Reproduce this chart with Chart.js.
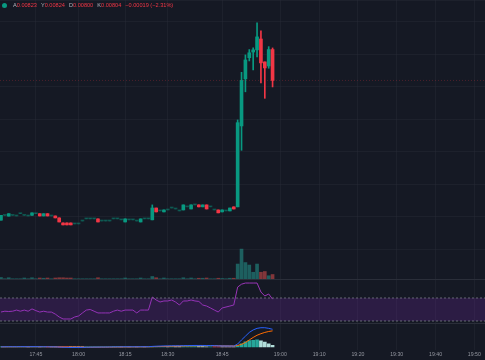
<!DOCTYPE html>
<html>
<head>
<meta charset="utf-8">
<script src="https://cdn.jsdelivr.net/npm/chart.js@4.4.1/dist/chart.umd.min.js"></script>
<style>
    body {
        margin: 0;
        padding: 0;
        background: #151924;
        width: 485px;
        height: 360px;
        overflow: hidden;
        position: relative;
        font-family: "Liberation Sans", Arial, sans-serif;
    }
    .pane { position: absolute; left: 0; width: 485px; }
    #pricePane { top: 0; height: 279px; }
    #rsiPane { top: 280px; height: 43px; }
    #macdPane { top: 324px; height: 36px; }
    .sep { position: absolute; left: 0; width: 485px; height: 1px; background: #2a2e39; }
    #legend {
        position: absolute;
        left: 2px;
        top: 2px;
        font-size: 5.6px;
        line-height: 7px;
        color: #f23645;
        white-space: nowrap;
        z-index: 5;
    }
    #legend .dot {
        display: inline-block;
        width: 5px; height: 5px;
        border-radius: 50%;
        background: #089981;
        vertical-align: -1px;
        margin-right: 6px;
    }
    #legend .k { color: #b2b5be; }
    #legend .g { margin-right: 2.5px; }
</style>
</head>
<body>
<div id="legend">
    <span class="dot"></span><span class="g"><span class="k">A</span>0.00823</span>
    <span class="g"><span class="k">Y</span>0.00824</span>
    <span class="g"><span class="k">D</span>0.00800</span>
    <span class="g"><span class="k">K</span>0.00804</span>
    <span class="g">−0.00019 (−2.31%)</span>
</div>
<div class="pane" id="pricePane"><canvas id="priceChart"></canvas></div>
<div class="sep" style="top:279px"></div>
<div class="pane" id="rsiPane"><canvas id="rsiChart"></canvas></div>
<div class="sep" style="top:323px"></div>
<div class="pane" id="macdPane"><canvas id="macdChart"></canvas></div>

<script>
// 1 minute candles, index = bar number
const open = [0.00718, 0.00721, 0.007205, 0.00721, 0.007206, 0.00722, 0.00721, 0.007206, 0.00721, 0.00722,
    0.00722, 0.007206, 0.00722, 0.007206, 0.007206, 0.007194, 0.007163, 0.007163, 0.007163, 0.007157,
    0.007157, 0.007175, 0.007188, 0.007188, 0.007188, 0.007188, 0.007175, 0.007175, 0.007175, 0.007188,
    0.007188, 0.007182, 0.007169, 0.007182, 0.007182, 0.007175, 0.007169, 0.007188, 0.007188, 0.007182,
    0.007255, 0.007237, 0.007231, 0.007243, 0.007255, 0.007249, 0.007237, 0.007243, 0.007262, 0.007249,
    0.007274, 0.007274, 0.007262, 0.007274, 0.007262, 0.007243, 0.007243, 0.007231, 0.007237, 0.007237,
    0.007262, 0.007262, 0.00776, 0.00805, 0.00818, 0.008215, 0.008228, 0.008295, 0.008154, 0.008129,
    0.00823];
const high = [0.00721, 0.00721, 0.00722, 0.00721, 0.007206, 0.00722, 0.00721, 0.007206, 0.007225, 0.00722,
    0.00722, 0.00722, 0.00722, 0.007206, 0.007206, 0.007194, 0.007163, 0.007163, 0.007163, 0.007157,
    0.007157, 0.007175, 0.007188, 0.007188, 0.007188, 0.007188, 0.007175, 0.007175, 0.007175, 0.007188,
    0.007188, 0.007182, 0.007188, 0.007182, 0.007182, 0.007175, 0.007188, 0.007188, 0.007188, 0.007274,
    0.007255, 0.007237, 0.007243, 0.007243, 0.007255, 0.007249, 0.007237, 0.007274, 0.007262, 0.007274,
    0.007274, 0.007274, 0.007274, 0.007274, 0.007262, 0.007243, 0.007243, 0.007243, 0.007237, 0.007255,
    0.007262, 0.007797, 0.00809, 0.008197, 0.00823, 0.00824, 0.008394, 0.008345, 0.008154, 0.008248,
    0.00824];
const low = [0.00718, 0.00721, 0.007205, 0.00721, 0.007206, 0.00722, 0.00721, 0.007206, 0.00721, 0.00722,
    0.007206, 0.007206, 0.007206, 0.007206, 0.007194, 0.007169, 0.007151, 0.007151, 0.007151, 0.007157,
    0.007157, 0.007175, 0.007188, 0.007188, 0.007188, 0.007169, 0.007175, 0.007175, 0.007175, 0.007188,
    0.007188, 0.007182, 0.007169, 0.007182, 0.007182, 0.007175, 0.007169, 0.007188, 0.007188, 0.007182,
    0.007231, 0.007237, 0.007231, 0.007243, 0.007255, 0.007249, 0.007237, 0.007243, 0.007262, 0.007249,
    0.007274, 0.007262, 0.007262, 0.007249, 0.007262, 0.007243, 0.007225, 0.007231, 0.007237, 0.007237,
    0.007249, 0.007262, 0.00761, 0.00797, 0.00816, 0.008105, 0.008185, 0.008025, 0.00793, 0.008115,
    0.008];
const close = [0.00721, 0.00721, 0.00722, 0.00721, 0.007206, 0.00722, 0.00721, 0.007206, 0.007225, 0.00722,
    0.007206, 0.00722, 0.007206, 0.007206, 0.007194, 0.007169, 0.007151, 0.007151, 0.007151, 0.007157,
    0.007157, 0.007175, 0.007188, 0.007188, 0.007188, 0.007169, 0.007175, 0.007175, 0.007175, 0.007188,
    0.007188, 0.007182, 0.007188, 0.007182, 0.007182, 0.007175, 0.007188, 0.007188, 0.007188, 0.007255,
    0.007231, 0.007237, 0.007243, 0.007243, 0.007255, 0.007249, 0.007237, 0.007274, 0.007262, 0.007274,
    0.007274, 0.007262, 0.007274, 0.007249, 0.007262, 0.007243, 0.007225, 0.007243, 0.007237, 0.007255,
    0.007249, 0.00778, 0.00804, 0.008166, 0.00821, 0.008228, 0.008308, 0.008148, 0.008117, 0.00823,
    0.00804];
// volume in thousands
const volume = [30, 5, 25, 5, 5, 5, 20, 5, 25, 5,
    20, 15, 20, 5, 20, 25, 25, 20, 20, 5,
    5, 5, 5, 5, 5, 25, 5, 5, 5, 5,
    5, 5, 20, 5, 5, 5, 20, 5, 5, 50,
    25, 5, 20, 5, 5, 5, 5, 25, 5, 20,
    5, 15, 15, 20, 5, 5, 15, 10, 5, 15,
    15, 300, 600, 330, 280, 135, 300, 135, 150, 65,
    90];
const rsi = [45.6, 47, 46.5, 47, 49, 47, 49, 47, 51, 48,
    45.5, 47, 45.5, 45.5, 42, 37, 33.5, 33.5, 33.5, 37,
    38.7, 44, 49, 50, 47, 44, 44, 44, 44, 47,
    49, 47, 49, 49, 49, 44, 49, 49, 49, 71.7,
    66.5, 63, 64.8, 64.8, 66.5, 63, 57.8, 64.8, 64.8, 66.5,
    64.8, 64, 57.8, 56, 52.6, 49, 45.6, 52.6, 54.3, 56,
    57.8, 89, 94, 96, 96, 96, 96, 80.4, 73.5, 77,
    68];
const macdLine = [0, 0.000001, 0.000002, 0.000002, 0.000002, 0.000003, 0.000003, 0.000002, 0.000003, 0.000003,
    0.000002, 0.000002, 0.000001, 0.000001, 0, -0.000003, -0.000006, -0.000008, -0.00001, -0.00001,
    -0.00001, -0.000009, -0.000007, -0.000005, -0.000004, -0.000004, -0.000003, -0.000003, -0.000002, -0.000001,
    0, 0, 0.000001, 0.000001, 0.000001, 0.000001, 0.000002, 0.000002, 0.000002, 0.000007,
    0.00001, 0.000012, 0.000014, 0.000015, 0.000017, 0.000017, 0.000017, 0.000019, 0.00002, 0.000021,
    0.000022, 0.000022, 0.000022, 0.000021, 0.000021, 0.000019, 0.000016, 0.000015, 0.000014, 0.000014,
    0.000013, 0.000045, 0.00011, 0.00017, 0.00023, 0.00027, 0.000295, 0.000305, 0.000305, 0.000295,
    0.00028];
const signalLine = [0, 0, 0.000001, 0.000001, 0.000001, 0.000002, 0.000002, 0.000002, 0.000002, 0.000002,
    0.000002, 0.000002, 0.000002, 0.000002, 0.000001, 0.000001, -0.000001, -0.000002, -0.000004, -0.000005,
    -0.000006, -0.000007, -0.000007, -0.000007, -0.000006, -0.000006, -0.000005, -0.000005, -0.000004, -0.000004,
    -0.000003, -0.000002, -0.000002, -0.000001, -0.000001, 0, 0, 0.000001, 0.000001, 0.000002,
    0.000004, 0.000005, 0.000007, 0.000009, 0.00001, 0.000012, 0.000013, 0.000014, 0.000015, 0.000016,
    0.000017, 0.000018, 0.000019, 0.00002, 0.00002, 0.00002, 0.000019, 0.000018, 0.000017, 0.000017,
    0.000016, 0.000022, 0.00004, 0.00007, 0.00011, 0.00015, 0.000185, 0.00021, 0.00023, 0.000245,
    0.000255];
const macdHist = [0, 0.000001, 0.000001, 0.000001, 0.000001, 0.000001, 0.000001, 0, 0.000001, 0.000001,
    0, 0, -0.000001, -0.000001, -0.000001, -0.000004, -0.000005, -0.000006, -0.000006, -0.000005,
    -0.000004, -0.000002, 0, 0.000002, 0.000002, 0.000002, 0.000002, 0.000002, 0.000002, 0.000003,
    0.000003, 0.000002, 0.000003, 0.000002, 0.000002, 0.000001, 0.000002, 0.000001, 0.000001, 0.000005,
    0.000006, 0.000007, 0.000007, 0.000006, 0.000007, 0.000005, 0.000004, 0.000005, 0.000005, 0.000005,
    0.000005, 0.000004, 0.000003, 0.000001, 0.000001, -0.000001, -0.000003, -0.000003, -0.000003, -0.000003,
    -0.000003, 0.000015, 0.00005, 0.00008, 0.0001, 0.000105, 0.00011, 0.000095, 0.000075, 0.00005,
    0.000025];

const tickIdx = [9, 20, 32, 43, 57, 72, 82, 92, 102, 112, 122];
const tickLabels = ['17:45', '18:00', '18:15', '18:30', '18:45', '19:00', '19:10', '19:20', '19:30', '19:40', '19:50'];
const rsiUpper = 70;
const rsiLower = 30;

const UP = '#089981', DOWN = '#f23645';
const X_MIN = -0.25, X_MAX = 124.75;
const GRID = 'rgba(42,46,57,0.4)';

function candleColor(i) {
    if (close[i] === open[i]) return 'rgba(8,153,129,0.45)';
    return close[i] > open[i] ? UP : DOWN;
}

function xScale(showLabels) {
    return {
        type: 'linear',
        min: X_MIN,
        max: X_MAX,
        offset: false,
        afterBuildTicks: (scale) => { scale.ticks = tickIdx.map(v => ({ value: v })); },
        grid: { color: GRID, drawTicks: false, offset: false },
        border: { display: false },
        ticks: {
            display: showLabels,
            padding: 2,
            maxRotation: 0,
            autoSkip: false,
            color: '#9598a1',
            font: { size: 5.2, family: 'Liberation Sans' },
            callback: (v, i) => tickLabels[i]
        }
    };
}

const baseOpts = {
    responsive: true,
    maintainAspectRatio: false,
    animation: false,
    devicePixelRatio: 1,
    layout: { padding: 0 },
    plugins: { legend: { display: false }, tooltip: { enabled: false } }
};

const bars = open.map((o, i) => i);

new Chart(document.getElementById('priceChart'), {
    type: 'bar',
    data: {
        datasets: [
            {
                type: 'bar',
                data: bars.map(i => ({ x: i, y: volume[i] })),
                yAxisID: 'yv',
                grouped: false,
                barThickness: 3,
                order: 3,
                backgroundColor: c => close[c.dataIndex] >= open[c.dataIndex] ? 'rgba(38,166,154,0.5)' : 'rgba(239,83,80,0.5)'
            },
            {
                type: 'bar',
                data: bars.map(i => ({ x: i, y: [low[i], high[i]] })),
                yAxisID: 'y',
                grouped: false,
                barThickness: 1,
                order: 2,
                backgroundColor: c => candleColor(c.dataIndex)
            },
            {
                type: 'bar',
                data: bars.map(i => ({ x: i, y: [open[i], close[i]] })),
                yAxisID: 'y',
                grouped: false,
                barThickness: 3,
                minBarLength: 1,
                order: 1,
                backgroundColor: c => candleColor(c.dataIndex)
            },
            {
                type: 'line',
                data: [{ x: X_MIN, y: close[close.length - 1] }, { x: X_MAX, y: close[close.length - 1] }],
                yAxisID: 'y',
                borderColor: 'rgba(242,54,69,0.25)',
                borderWidth: 1,
                borderDash: [1, 2],
                pointRadius: 0,
                order: 0
            }
        ]
    },
    options: {
        ...baseOpts,
        scales: {
            x: xScale(false),
            y: {
                min: 0.006818,
                max: 0.008535,
                position: 'right',
                grid: { color: GRID, drawTicks: false },
                border: { display: false },
                ticks: { display: false, stepSize: 0.0002 }
            },
            yv: { min: 0, max: 5600, display: false }
        }
    }
});

new Chart(document.getElementById('rsiChart'), {
    type: 'line',
    data: {
        datasets: [
            {
                data: [{ x: X_MIN, y: rsiUpper }, { x: X_MAX, y: rsiUpper }],
                borderColor: 'rgba(120,123,134,0.8)',
                borderWidth: 1,
                borderDash: [2, 2],
                pointRadius: 0
            },
            {
                data: [{ x: X_MIN, y: rsiLower }, { x: X_MAX, y: rsiLower }],
                borderColor: 'rgba(120,123,134,0.8)',
                borderWidth: 1,
                borderDash: [2, 2],
                pointRadius: 0,
                fill: '-1',
                backgroundColor: 'rgba(126,40,180,0.22)'
            },
            {
                data: bars.map(i => ({ x: i, y: rsi[i] })),
                borderColor: '#9b36b8',
                borderWidth: 1,
                pointRadius: 0,
                tension: 0
            }
        ]
    },
    options: {
        ...baseOpts,
        scales: {
            x: xScale(false),
            y: { min: 26.5, max: 101.3, display: false }
        }
    }
});

new Chart(document.getElementById('macdChart'), {
    type: 'bar',
    data: {
        datasets: [
            {
                type: 'bar',
                data: bars.map(i => ({ x: i, y: macdHist[i] })),
                grouped: false,
                barThickness: 3,
                order: 3,
                backgroundColor: c => {
                    const i = c.dataIndex, h = macdHist[i], p = i > 0 ? macdHist[i - 1] : 0;
                    if (h >= 0) return h >= p ? '#26a69a' : '#b2dfdb';
                    return h < p ? '#ff5252' : '#ffcdd2';
                }
            },
            {
                type: 'line',
                data: bars.map(i => ({ x: i, y: macdLine[i] })),
                borderColor: '#2962ff',
                borderWidth: 1,
                pointRadius: 0,
                order: 1
            },
            {
                type: 'line',
                data: bars.map(i => ({ x: i, y: signalLine[i] })),
                borderColor: '#ff6d00',
                borderWidth: 1,
                pointRadius: 0,
                order: 2
            }
        ]
    },
    options: {
        ...baseOpts,
        scales: {
            x: xScale(true),
            y: { min: -0.0000465, max: 0.0003645, display: false }
        }
    }
});
</script>
</body>
</html>
